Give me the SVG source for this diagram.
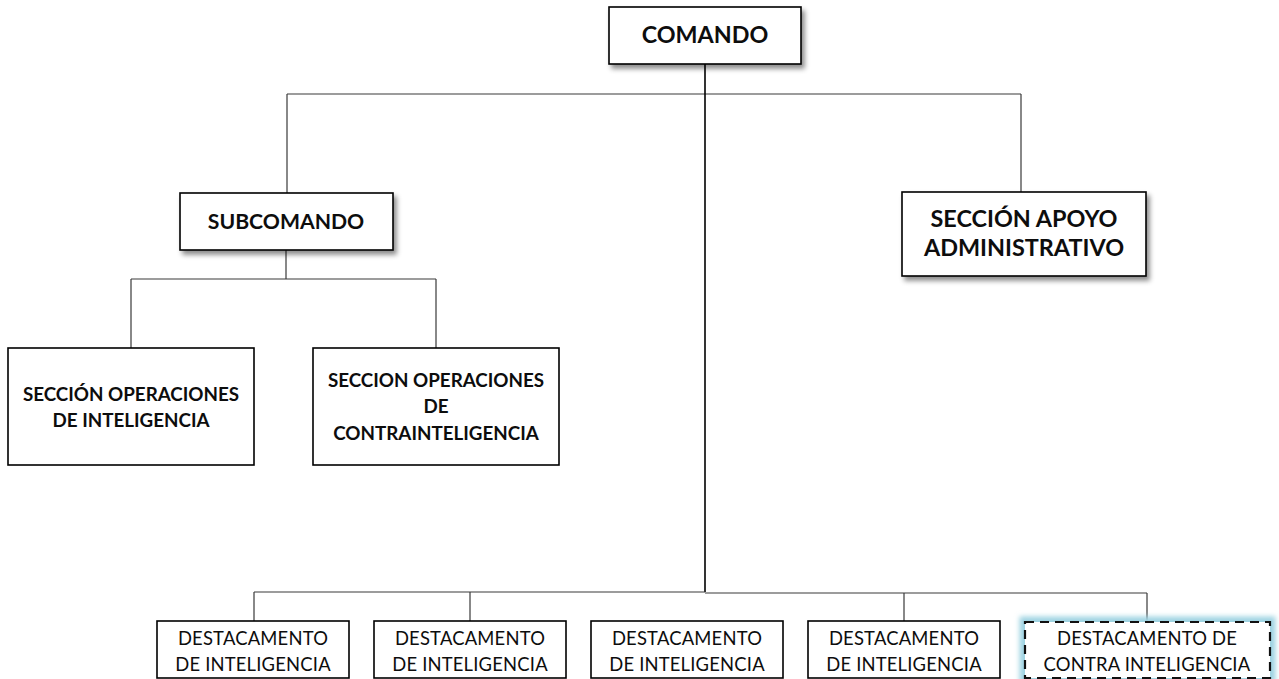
<svg xmlns="http://www.w3.org/2000/svg" width="1279" height="679" viewBox="0 0 1279 679">
<style>
  .bx { fill: #ffffff; stroke: #000000; stroke-width: 1.6; }
  .tb { font-family: Lato, "Liberation Sans", sans-serif; font-weight: bold; fill: #0d0d0d; text-anchor: middle; }
  .tr { font-family: Lato, "Liberation Sans", sans-serif; font-weight: normal; fill: #0d0d0d; text-anchor: middle; font-size: 18.4px; letter-spacing: 0.2px; }
  .ln { fill: none; stroke: #3a3a3a; stroke-width: 1.2; }
  .main { fill: none; stroke: #000000; stroke-width: 1.6; }
</style>
<defs>
  <filter id="sh" x="-10%" y="-20%" width="130%" height="150%">
    <feDropShadow dx="3" dy="4" stdDeviation="2.5" flood-color="#000000" flood-opacity="0.45"/>
  </filter>
  <filter id="glow" x="-10%" y="-40%" width="120%" height="180%">
    <feGaussianBlur stdDeviation="2.5"/>
  </filter>
</defs>
<rect width="1279" height="679" fill="#ffffff"/>
<g id="connectors">
  <path class="ln" d="M287 94 H1021 M287 94 V193 M1021 94 V192"/>
  <path class="main" d="M705 64 V592"/>
  <path class="ln" d="M286 250 V279 M131 279 H436 M131 279 V348 M436 279 V348"/>
  <path class="ln" d="M254 592 H705 M254 592 V621 M470 592 V621"/>
  <path class="ln" d="M705 593 H1147 M904 593 V621 M1147 593 V622" stroke="#555555"/>
</g>
<g id="comando">
  <rect class="bx" x="609" y="7" width="192" height="57" filter="url(#sh)"/>
  <text class="tb" x="705" y="43" font-size="23.3">COMANDO</text>
</g>
<g id="subcomando">
  <rect class="bx" x="180" y="193" width="213" height="57" filter="url(#sh)"/>
  <text class="tb" x="286" y="229" font-size="21.2">SUBCOMANDO</text>
</g>
<g id="apoyo">
  <rect class="bx" x="902" y="192" width="244" height="84" filter="url(#sh)"/>
  <text class="tb" x="1024" y="227" font-size="23.4">SECCIÓN APOYO</text>
  <text class="tb" x="1024" y="256" font-size="23.4">ADMINISTRATIVO</text>
</g>
<g id="sec-op-int">
  <rect class="bx" x="8" y="348" width="246" height="117"/>
  <text class="tb" x="131" y="401" font-size="18.8">SECCIÓN OPERACIONES</text>
  <text class="tb" x="131" y="427" font-size="18.8">DE INTELIGENCIA</text>
</g>
<g id="sec-op-cint">
  <rect class="bx" x="313" y="348" width="246" height="117"/>
  <text class="tb" x="436" y="387" font-size="18.8">SECCION OPERACIONES</text>
  <text class="tb" x="436" y="413" font-size="18.8">DE</text>
  <text class="tb" x="436" y="440" font-size="18.8">CONTRAINTELIGENCIA</text>
</g>
<g id="dest1">
  <rect class="bx" x="157" y="621" width="192" height="57"/>
  <text class="tr" x="253" y="645">DESTACAMENTO</text>
  <text class="tr" x="253" y="671">DE INTELIGENCIA</text>
</g>
<g id="dest2">
  <rect class="bx" x="374" y="621" width="192" height="57"/>
  <text class="tr" x="470" y="645">DESTACAMENTO</text>
  <text class="tr" x="470" y="671">DE INTELIGENCIA</text>
</g>
<g id="dest3">
  <rect class="bx" x="591" y="621" width="192" height="57"/>
  <text class="tr" x="687" y="645">DESTACAMENTO</text>
  <text class="tr" x="687" y="671">DE INTELIGENCIA</text>
</g>
<g id="dest4">
  <rect class="bx" x="808" y="621" width="192" height="57"/>
  <text class="tr" x="904" y="645">DESTACAMENTO</text>
  <text class="tr" x="904" y="671">DE INTELIGENCIA</text>
</g>
<g id="dest-contra">
  <rect x="1025" y="622" width="245" height="56" fill="none" stroke="#9ed3e2" stroke-width="11" filter="url(#glow)"/>
  <rect x="1025" y="622" width="245" height="56" fill="#ffffff" stroke="#111111" stroke-width="2.2" stroke-dasharray="9 6"/>
  <text class="tr" x="1147" y="645">DESTACAMENTO DE</text>
  <text class="tr" x="1147" y="671">CONTRA INTELIGENCIA</text>
</g>
</svg>
